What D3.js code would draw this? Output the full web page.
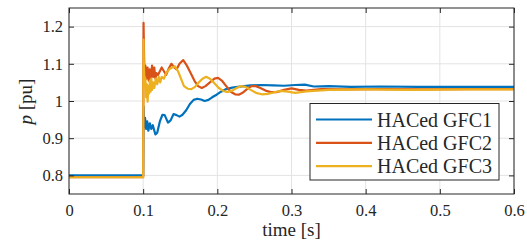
<!DOCTYPE html>
<html>
<head>
<meta charset="utf-8">
<script src="https://cdn.jsdelivr.net/npm/d3@7"></script>
<style>
  body { margin: 0; background: #fff; }
  text { font-family: "Liberation Serif", "Times New Roman", serif; fill: #262626; }
</style>
</head>
<body>
<svg id="chart"></svg>
<script>
// time [s] / p [pu] samples
const gfc1 = [
  [0, 0.800], [0.1, 0.800], [0.1005, 0.985], [0.1012, 0.930], [0.1025, 0.955], [0.104, 0.925],
  [0.1055, 0.945], [0.107, 0.920], [0.109, 0.940], [0.111, 0.925], [0.113, 0.935], [0.1165, 0.910],
  [0.119, 0.915], [0.1225, 0.945], [0.126, 0.963], [0.129, 0.962], [0.1335, 0.942], [0.137, 0.948],
  [0.141, 0.965], [0.145, 0.962], [0.149, 0.958], [0.153, 0.963], [0.158, 0.975], [0.163, 0.992],
  [0.168, 1.003], [0.173, 1.006], [0.178, 1.004], [0.183, 1.000], [0.188, 1.003], [0.193, 1.010],
  [0.199, 1.017], [0.205, 1.025], [0.212, 1.032], [0.220, 1.036], [0.228, 1.038], [0.236, 1.040],
  [0.245, 1.042], [0.260, 1.043], [0.275, 1.042], [0.290, 1.041], [0.305, 1.043], [0.318, 1.044],
  [0.330, 1.039], [0.350, 1.040], [0.380, 1.038], [0.420, 1.039], [0.470, 1.038], [0.530, 1.038],
  [0.600, 1.038]
];
const gfc2 = [
  [0, 0.795], [0.1, 0.795], [0.1005, 1.210], [0.1012, 1.120], [0.102, 1.070], [0.103, 1.095],
  [0.1045, 1.060], [0.106, 1.090], [0.1075, 1.055], [0.109, 1.085], [0.1105, 1.060], [0.112, 1.095],
  [0.1135, 1.065], [0.115, 1.090], [0.1165, 1.060], [0.118, 1.075], [0.120, 1.070], [0.1225, 1.080],
  [0.125, 1.090], [0.128, 1.080], [0.131, 1.070], [0.134, 1.085], [0.138, 1.100], [0.142, 1.090],
  [0.145, 1.085], [0.149, 1.100], [0.154, 1.110], [0.159, 1.095], [0.164, 1.075], [0.169, 1.055],
  [0.174, 1.040], [0.179, 1.035], [0.184, 1.040], [0.190, 1.050], [0.196, 1.060], [0.201, 1.062],
  [0.206, 1.055], [0.212, 1.040], [0.218, 1.025], [0.224, 1.018], [0.229, 1.017], [0.234, 1.022],
  [0.240, 1.032], [0.246, 1.040], [0.252, 1.040], [0.258, 1.035], [0.265, 1.028], [0.272, 1.024],
  [0.280, 1.024], [0.290, 1.030], [0.300, 1.034], [0.310, 1.030], [0.320, 1.028], [0.340, 1.032],
  [0.370, 1.031], [0.420, 1.032], [0.480, 1.031], [0.540, 1.032], [0.600, 1.032]
];
const gfc3 = [
  [0, 0.795], [0.1, 0.795], [0.1005, 1.165], [0.101, 1.090], [0.102, 1.040], [0.103, 1.060],
  [0.104, 1.010], [0.105, 1.045], [0.106, 0.998], [0.107, 1.040], [0.108, 1.020], [0.109, 1.055],
  [0.110, 1.025], [0.111, 1.060], [0.112, 1.030], [0.1135, 1.050], [0.115, 1.035], [0.117, 1.060],
  [0.119, 1.045], [0.121, 1.065], [0.123, 1.050], [0.125, 1.065], [0.128, 1.060], [0.131, 1.075],
  [0.135, 1.085], [0.139, 1.090], [0.143, 1.093], [0.147, 1.080], [0.151, 1.060], [0.155, 1.040],
  [0.160, 1.033], [0.165, 1.032], [0.170, 1.038], [0.175, 1.050], [0.180, 1.060], [0.185, 1.065],
  [0.190, 1.060], [0.196, 1.048], [0.202, 1.035], [0.208, 1.027], [0.214, 1.024], [0.220, 1.028],
  [0.226, 1.035], [0.232, 1.040], [0.238, 1.038], [0.245, 1.030], [0.252, 1.022], [0.260, 1.018],
  [0.268, 1.019], [0.276, 1.023], [0.285, 1.027], [0.295, 1.025], [0.305, 1.022], [0.320, 1.026],
  [0.350, 1.030], [0.400, 1.031], [0.460, 1.030], [0.530, 1.031], [0.600, 1.031]
];

const seriesNames = ["HACed GFC1", "HACed GFC2", "HACed GFC3"];
const seriesColors = ["#0072BD", "#D95319", "#EDB120"];
const xTicks = [0, 0.1, 0.2, 0.3, 0.4, 0.5, 0.6];
const yTicks = [0.8, 0.9, 1, 1.1, 1.2];

const width = 527, height = 244;
const margin = { top: 8, right: 13, bottom: 50, left: 69 };
const iw = width - margin.left - margin.right;
const ih = height - margin.top - margin.bottom;
const serif = '"Liberation Serif", "Times New Roman", serif';

const svg = d3.select("#chart")
    .attr("width", width)
    .attr("height", height)
    .attr("viewBox", `0 0 ${width} ${height}`);

const g = svg.append("g").attr("transform", `translate(${margin.left},${margin.top})`);

const x = d3.scaleLinear().domain([0, 0.6]).range([0, iw]);
const y = d3.scaleLinear().domain([0.75, 1.25]).range([ih, 0]);

// grid
g.append("g").selectAll("line").data(xTicks).join("line")
    .attr("x1", d => x(d)).attr("x2", d => x(d))
    .attr("y1", 0).attr("y2", ih)
    .attr("stroke", "#e3e3e3").attr("stroke-width", 1);
g.append("g").selectAll("line").data(yTicks).join("line")
    .attr("x1", 0).attr("x2", iw)
    .attr("y1", d => y(d)).attr("y2", d => y(d))
    .attr("stroke", "#e3e3e3").attr("stroke-width", 1);

// lines
const line = d3.line().x(d => x(d[0])).y(d => y(d[1]));
const plot = g.append("g");
[gfc1, gfc2, gfc3].forEach((s, i) => {
    plot.append("path")
        .datum(s)
        .attr("fill", "none")
        .attr("stroke", seriesColors[i])
        .attr("stroke-width", 2.2)
        .attr("stroke-linejoin", "round")
        .attr("d", line);
});

// axes (ticks point inwards, MATLAB style)
const fmt = d3.format("");
g.append("g").attr("transform", `translate(0,${ih})`)
    .call(d3.axisBottom(x).tickValues(xTicks).tickFormat(fmt).tickSize(-5).tickPadding(10))
    .attr("font-family", serif).attr("font-size", 16.5);
g.append("g")
    .call(d3.axisLeft(y).tickValues(yTicks).tickFormat(fmt).tickSize(-5).tickPadding(6))
    .attr("font-family", serif).attr("font-size", 16.5);
g.append("g")
    .call(d3.axisTop(x).tickValues(xTicks).tickFormat("").tickSize(-5));
g.append("g").attr("transform", `translate(${iw},0)`)
    .call(d3.axisRight(y).tickValues(yTicks).tickFormat("").tickSize(-5));

g.selectAll(".domain").remove();
g.selectAll(".tick line").attr("stroke", "#262626");
g.selectAll(".tick text").attr("fill", "#262626");

g.append("rect")
    .attr("width", iw).attr("height", ih)
    .attr("fill", "none").attr("stroke", "#262626").attr("stroke-width", 1);

// axis labels
svg.append("text")
    .attr("x", margin.left + iw / 2).attr("y", 236)
    .attr("text-anchor", "middle")
    .style("font-size", "19px")
    .text("time [s]");

const yl = svg.append("text")
    .attr("transform", "translate(32,101.5) rotate(-90)")
    .attr("text-anchor", "middle")
    .style("font-size", "19px");
yl.append("tspan").style("font-style", "italic").text("p");
yl.append("tspan").text(" [pu]");

// legend
const legend = svg.append("g").attr("transform", "translate(310,103.5)");
legend.append("rect")
    .attr("width", 189).attr("height", 76.5)
    .attr("fill", "#fff").attr("stroke", "#262626").attr("stroke-width", 1);
seriesNames.forEach((name, i) => {
    const ly = 16 + i * 23.3;
    legend.append("line")
        .attr("x1", 6).attr("x2", 62)
        .attr("y1", ly).attr("y2", ly)
        .attr("stroke", seriesColors[i]).attr("stroke-width", 2.2);
    legend.append("text")
        .attr("x", 67).attr("y", ly)
        .attr("dy", "0.35em")
        .style("font-size", "20px")
        .text(name);
});
</script>
</body>
</html>
